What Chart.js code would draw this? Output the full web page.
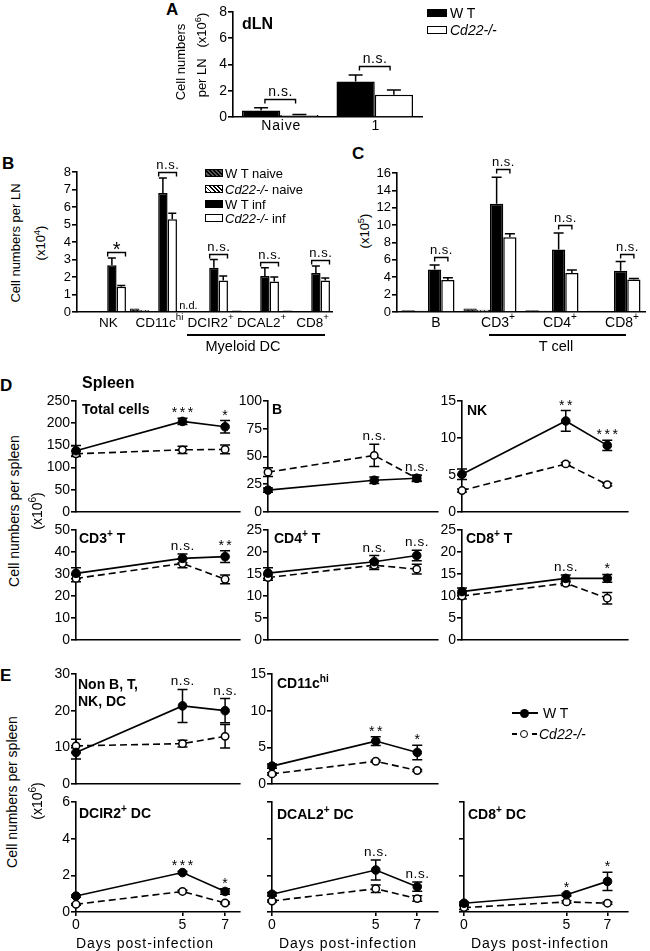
<!DOCTYPE html>
<html>
<head>
<meta charset="utf-8">
<title>Cd22-/- cell numbers in dLN and spleen</title>
<script src="https://cdn.jsdelivr.net/npm/chart.js@4.4.1/dist/chart.umd.min.js"></script>
<style>
  html, body { margin: 0; padding: 0; background: #fff; }
  #fig { position: relative; width: 650px; height: 951px; overflow: hidden;
         font-family: "Liberation Sans", Arial, Helvetica, sans-serif; color: #000; }
  #fig canvas { position: absolute; }
  .t { position: absolute; white-space: nowrap; line-height: 1; }
  .t sup { font-size: 72%; line-height: 0; vertical-align: 0; position: relative; top: -0.55em; }
</style>
</head>
<body>
<div id="fig"></div>
<script>
const FONT = '"Liberation Sans", Arial, Helvetica, sans-serif';

// ---------- data ----------
const days = [0, 5, 7];

// A: total cells per dLN (x10^6)
const lnGroups = ['Naive', '1'];
const lnTicks = [0, 2, 4, 6, 8];
const lnWT = [0.5, 2.7];
const lnWTErr = [0.2, 0.5];
const lnKO = [0.15, 1.7];
const lnKOErr = [0.05, 0.35];
const lnSig = ['n.s.', 'n.s.'];

// B: NK and DC subsets per dLN (x10^4)
const dcCells = ['NK', 'CD11c^{hi}', 'DCIR2^+', 'DCAL2^+', 'CD8^+'];
const dcTicks = [0, 1, 2, 3, 4, 5, 6, 7, 8];
const dcWTNaive = [0.05, 0.2, 0, 0.08, 0.08];
const dcKONaive = [0.05, 0.12, 0, 0.05, 0.05];
const dcWTInf = [2.67, 6.8, 2.53, 2.06, 2.23];
const dcWTInfErr = [0.42, 0.86, 0.47, 0.47, 0.4];
const dcKOInf = [1.45, 5.3, 1.8, 1.75, 1.8];
const dcKOInfErr = [0.06, 0.35, 0.26, 0.25, 0.14];
const dcSig = ['*', 'n.s.', 'n.s.', 'n.s.', 'n.s.'];
const dcNotDone = ['', '', 'n.d.', '', ''];

// C: B and T cells per dLN (x10^5)
const lyCells = ['B', 'CD3^+', 'CD4^+', 'CD8^+'];
const lyTicks = [0, 2, 4, 6, 8, 10, 12, 14, 16];
const lyWTNaive = [0.2, 0.4, 0.2, 0.15];
const lyKONaive = [0.15, 0.25, 0.15, 0.1];
const lyWTInf = [4.9, 12.45, 7.2, 4.75];
const lyWTInfErr = [0.5, 3.05, 1.9, 1.05];
const lyKOInf = [3.67, 8.6, 4.5, 3.75];
const lyKOInfErr = [0.27, 0.4, 0.33, 0.12];
const lySig = ['n.s.', 'n.s.', 'n.s.', 'n.s.'];

// D/E: spleen (x10^6), days 0/5/7
const totalTicks = [0, 50, 100, 150, 200, 250];
const totalWT = [138, 204, 192];
const totalWTErr = [12, 7, 14];
const totalKO = [131, 140, 141];
const totalKOErr = [6, 8, 10];
const totalSig = ['', '***', '*'];

const bTicks = [0, 25, 50, 75, 100];
const bWT = [19.7, 28.6, 30.4];
const bWTErr = [2, 3, 2.5];
const bKO = [35.9, 51, 30.4];
const bKOErr = [4, 10, 3];
const bSig = ['', 'n.s.', 'n.s.'];

const nkTicks = [0, 5, 10, 15];
const nkWT = [5.1, 12.3, 9.0];
const nkWTErr = [0.7, 1.4, 0.7];
const nkKO = [2.9, 6.5, 3.7];
const nkKOErr = [0.2, 0.2, 0.2];
const nkSig = ['', '**', '***'];

const cd3Ticks = [0, 10, 20, 30, 40, 50];
const cd3WT = [30.3, 37.1, 37.9];
const cd3WTErr = [2.5, 2, 2.7];
const cd3KO = [28, 34.8, 27.6];
const cd3KOErr = [1.5, 2, 2];
const cd3Sig = ['', 'n.s.', '**'];

const cd4Ticks = [0, 5, 10, 15, 20, 25];
const cd4WT = [15.2, 17.8, 19.2];
const cd4WTErr = [1.2, 1.4, 1.2];
const cd4KO = [14.2, 17, 16.1];
const cd4KOErr = [0.6, 1, 1.1];
const cd4Sig = ['', 'n.s.', 'n.s.'];

const cd8tTicks = [0, 5, 10, 15, 20, 25];
const cd8tWT = [11, 14, 14];
const cd8tWTErr = [0.8, 0.8, 0.9];
const cd8tKO = [10, 12.9, 9.5];
const cd8tKOErr = [0.7, 0.5, 1.3];
const cd8tSig = ['', 'n.s.', '*'];

const otherTicks = [0, 10, 20, 30];
const otherWT = [8.6, 21.3, 20];
const otherWTErr = [1.8, 4.5, 3.3];
const otherKO = [10.4, 11, 13];
const otherKOErr = [1.8, 0.9, 3.2];
const otherSig = ['', 'n.s.', 'n.s.'];

const cd11cTicks = [0, 5, 10, 15];
const cd11cWT = [2.44, 5.85, 4.3];
const cd11cWTErr = [0.3, 0.6, 1.0];
const cd11cKO = [1.38, 3.1, 1.84];
const cd11cKOErr = [0.15, 0.15, 0.15];
const cd11cSig = ['', '**', '*'];

const dcTicksSpleen = [0, 2, 4, 6];
const dcir2WT = [0.87, 2.15, 1.12];
const dcir2WTErr = [0.06, 0.06, 0.15];
const dcir2KO = [0.42, 1.12, 0.49];
const dcir2KOErr = [0.05, 0.06, 0.06];
const dcir2Sig = ['', '***', '*'];

const dcal2WT = [0.97, 2.29, 1.38];
const dcal2WTErr = [0.1, 0.55, 0.25];
const dcal2KO = [0.6, 1.27, 0.73];
const dcal2KOErr = [0.05, 0.2, 0.15];
const dcal2Sig = ['', 'n.s.', 'n.s.'];

const cd8dcWT = [0.48, 0.94, 1.67];
const cd8dcWTErr = [0.06, 0.07, 0.5];
const cd8dcKO = [0.24, 0.55, 0.48];
const cd8dcKOErr = [0.1, 0.06, 0.06];
const cd8dcSig = ['', '*', '*'];

// ---------- helpers ----------
Chart.defaults.font.family = FONT;
Chart.defaults.color = '#000';
const fig = document.getElementById('fig');

function put(html, x, y, style, mode) {
  const d = document.createElement('div');
  d.className = 't';
  d.innerHTML = html;
  d.style.cssText = 'left:' + x + 'px;top:' + y + 'px;' + (style || '');
  const tf = { c: 'translate(-50%,-50%)', r: 'translate(-50%,-50%) rotate(-90deg)', l: 'translateY(-50%)' };
  d.style.transform = tf[mode || 'l'];
  fig.appendChild(d);
}

function box(x, y, w, h, style) {
  const d = document.createElement('div');
  d.style.cssText = 'position:absolute;box-sizing:border-box;left:' + x + 'px;top:' + y + 'px;width:' + w + 'px;height:' + h + 'px;' + style;
  fig.appendChild(d);
}

// text with ^x or ^{xx} superscripts, centred on x, middle on y
function drawRich(ctx, str, x, y, size) {
  const parts = str.split(/(\^\{[^}]*\}|\^.)/).filter(Boolean).map(p =>
    p[0] === '^' ? { t: p[1] === '{' ? p.slice(2, -1) : p.slice(1), sup: true } : { t: p, sup: false });
  const f = s => s + 'px ' + FONT;
  let w = 0;
  parts.forEach(p => { ctx.font = f(p.sup ? size * 0.72 : size); p.w = ctx.measureText(p.t).width; w += p.w; });
  let cx = x - w / 2;
  ctx.textAlign = 'left';
  ctx.textBaseline = 'middle';
  parts.forEach(p => {
    ctx.font = f(p.sup ? size * 0.72 : size);
    ctx.fillText(p.t, cx, p.sup ? y - size * 0.4 : y);
    cx += p.w;
  });
}

function hatch(bg, fg, lw) {
  const p = document.createElement('canvas');
  p.width = p.height = 4;
  const g = p.getContext('2d');
  g.fillStyle = bg; g.fillRect(0, 0, 4, 4);
  g.strokeStyle = fg; g.lineWidth = lw;
  g.beginPath();
  g.moveTo(-1, -1); g.lineTo(5, 5);
  g.moveTo(-1, 3); g.lineTo(1, 5);
  g.moveTo(3, -1); g.lineTo(5, 1);
  g.stroke();
  return g.createPattern(p, 'repeat');
}

function yAxis(ticks, showLabels, size) {
  return {
    min: ticks[0], max: ticks[ticks.length - 1],
    afterBuildTicks: s => { s.ticks = ticks.map(v => ({ value: v })); },
    border: { display: true, color: '#000', width: 1.6 },
    grid: { display: true, drawOnChartArea: false, drawTicks: true, tickLength: 5, color: '#000', lineWidth: 1.6 },
    ticks: { display: showLabels, autoSkip: false, padding: 1, font: { size: size }, color: '#000' }
  };
}

function barX() {
  return {
    type: 'category',
    border: { display: true, color: '#000', width: 1.6 },
    grid: { display: false },
    ticks: { display: false }
  };
}

function dayX(xMax, showLabels) {
  return {
    type: 'linear', min: 0, max: xMax,
    afterBuildTicks: s => { s.ticks = days.map(v => ({ value: v })); },
    border: { display: true, color: '#000', width: 1.6 },
    grid: { display: showLabels, drawOnChartArea: false, drawTicks: true, tickLength: 4, color: '#000', lineWidth: 1.6 },
    ticks: { display: showLabels, padding: 1, autoSkip: false, maxRotation: 0, font: { size: 14 }, color: '#000' }
  };
}

function makeChart(b, type, data, y, x, plugins) {
  const c = document.createElement('canvas');
  const w = b.padL + (b.right - b.x) + b.padR;
  const h = b.padT + (b.bottom - b.top) + b.padB;
  c.width = w; c.height = h;
  c.style.left = (b.x - b.padL) + 'px';
  c.style.top = (b.top - b.padT) + 'px';
  c.style.width = w + 'px';
  c.style.height = h + 'px';
  fig.appendChild(c);
  y.afterFit = s => { s.width = b.padL; };
  x.afterFit = s => { s.height = b.padB; };
  return new Chart(c, {
    type: type,
    data: data,
    plugins: plugins,
    options: {
      responsive: false,
      animation: false,
      devicePixelRatio: 1,
      layout: { padding: { top: b.padT, right: b.padR, left: 0, bottom: 0 } },
      plugins: { legend: { display: false }, tooltip: { enabled: false } },
      scales: { x: x, y: y }
    }
  });
}

// error bars: bars get an upper whisker only, line points get both
function errorBars(cap, both) {
  function draw(chart) {
    const ctx = chart.ctx, ys = chart.scales.y;
    ctx.save();
    ctx.strokeStyle = '#000';
    ctx.lineWidth = 1.5;
    chart.data.datasets.forEach((ds, i) => {
      if (!ds.err) return;
      chart.getDatasetMeta(i).data.forEach((el, j) => {
        const e = ds.err[j];
        if (!e) return;
        const v = typeof ds.data[j] === 'object' ? ds.data[j].y : ds.data[j];
        const hi = ys.getPixelForValue(v + e);
        const lo = ys.getPixelForValue(both ? v - e : v);
        ctx.beginPath();
        ctx.moveTo(el.x, lo); ctx.lineTo(el.x, hi);
        ctx.moveTo(el.x - cap, hi); ctx.lineTo(el.x + cap, hi);
        if (both) { ctx.moveTo(el.x - cap, lo); ctx.lineTo(el.x + cap, lo); }
        ctx.stroke();
      });
    });
    ctx.restore();
  }
  return both
    ? { id: 'errorBars', beforeDatasetsDraw: draw }
    : { id: 'errorBars', afterDatasetsDraw: draw };
}

// category labels, brackets with significance, n.d. marks
function barExtras(cfg) {
  return {
    id: 'barExtras',
    afterDatasetsDraw(chart) {
      const ctx = chart.ctx, xs = chart.scales.x, ys = chart.scales.y;
      const ds = chart.data.datasets;
      const mw = chart.getDatasetMeta(cfg.wt), mk = chart.getDatasetMeta(cfg.ko);
      ctx.save();
      ctx.fillStyle = '#000';
      ctx.strokeStyle = '#000';
      chart.data.labels.forEach((lab, i) => {
        ctx.letterSpacing = cfg.labelSpacing || '0px';
        drawRich(ctx, lab, xs.getPixelForValue(i) + cfg.labelShift, ys.bottom + cfg.labelDy, cfg.labelSize);
        ctx.letterSpacing = '0px';
        const top = Math.max(ds[cfg.wt].data[i] + ds[cfg.wt].err[i], ds[cfg.ko].data[i] + ds[cfg.ko].err[i]);
        const by = Math.round(ys.getPixelForValue(top) - cfg.gap) + 0.5;
        const sp = mw.data[i].width * cfg.spread;
        const x1 = mw.data[i].x - sp, x2 = mk.data[i].x + sp;
        ctx.lineWidth = 1.4;
        ctx.beginPath();
        ctx.moveTo(x1, by + 4); ctx.lineTo(x1, by); ctx.lineTo(x2, by); ctx.lineTo(x2, by + 4);
        ctx.stroke();
        const s = cfg.sig[i], cx = (x1 + x2) / 2;
        ctx.textAlign = 'center';
        ctx.textBaseline = 'alphabetic';
        if (s[0] === '*') {
          ctx.font = '20px ' + FONT;
          ctx.fillText(s, cx, by + 3);
        } else {
          ctx.font = cfg.sigSize + 'px ' + FONT;
          ctx.letterSpacing = '0.5px';
          ctx.fillText(s, cx + 0.25, by - 4);
          ctx.letterSpacing = '0px';
        }
        if (cfg.nd && cfg.nd[i]) {
          const n0 = chart.getDatasetMeta(0).data[i], n1 = chart.getDatasetMeta(1).data[i];
          ctx.font = '11px ' + FONT;
          ctx.fillText(cfg.nd[i], (n0.x + n1.x) / 2 - 2, ys.bottom - 3);
        }
      });
      ctx.restore();
    }
  };
}

function lineSig(labels) {
  return {
    id: 'lineSig',
    afterDatasetsDraw(chart) {
      const ctx = chart.ctx, xs = chart.scales.x, ys = chart.scales.y;
      const ds = chart.data.datasets;
      ctx.save();
      ctx.fillStyle = '#000';
      ctx.textAlign = 'center';
      ctx.textBaseline = 'alphabetic';
      labels.forEach((lab, j) => {
        if (!lab) return;
        const top = Math.max(...ds.map(d => d.data[j].y + d.err[j]));
        const px = xs.getPixelForValue(days[j]);
        const py = ys.getPixelForValue(top);
        if (lab[0] === '*') {
          ctx.font = '14px ' + FONT;
          ctx.letterSpacing = '2.5px';
          ctx.fillText(lab, px + 1.25, py - 1);
        } else {
          ctx.font = '13.5px ' + FONT;
          ctx.letterSpacing = '0.6px';
          ctx.fillText(lab, px + 0.3, py - 4);
        }
      });
      ctx.restore();
    }
  };
}

function pts(vals) { return days.map((d, i) => ({ x: d, y: vals[i] })); }

function linePanel(g, ticks, wt, wtErr, ko, koErr, sig) {
  const b = { x: g.x, right: g.right, top: g.top, bottom: g.bottom, padL: 34, padR: 6, padT: 12, padB: g.days ? 32 : 11 };
  return makeChart(b, 'line', {
    datasets: [
      { data: pts(wt), err: wtErr, borderColor: '#000', borderWidth: 1.6, pointRadius: 4.3, pointBorderWidth: 1,
        pointBackgroundColor: '#000', pointBorderColor: '#000', clip: false },
      { data: pts(ko), err: koErr, borderColor: '#000', borderWidth: 1.6, borderDash: [7, 4], pointRadius: 3.7,
        pointBorderWidth: 1.5, pointBackgroundColor: '#fff', pointBorderColor: '#000', clip: false }
    ]
  }, yAxis(ticks, g.labels !== false, 14), dayX(g.xMax, !!g.days), [errorBars(5, true), lineSig(sig)]);
}

// ---------- A ----------
makeChart({ x: 233, right: 422, top: 12, bottom: 117, padL: 22, padR: 6, padT: 12, padB: 20 }, 'bar', {
  labels: lnGroups,
  datasets: [
    { data: lnWT, err: lnWTErr, backgroundColor: '#000', borderColor: '#000', borderWidth: 1.5, barPercentage: 1, categoryPercentage: 0.81 },
    { data: lnKO, err: lnKOErr, backgroundColor: '#fff', borderColor: '#000', borderWidth: 1.5, barPercentage: 1, categoryPercentage: 0.81 }
  ]
}, yAxis(lnTicks, true, 14), barX(), [errorBars(7, false),
  barExtras({ wt: 0, ko: 1, sig: lnSig, spread: -0.1, gap: 9, labelShift: 1, labelDy: 9, labelSize: 14, labelSpacing: '0.8px', sigSize: 14 })]);

// ---------- B ----------
const darkHatch = hatch('#555', '#000', 1.2);
const lightHatch = hatch('#fff', '#000', 1);
makeChart({ x: 77, right: 332, top: 172, bottom: 312, padL: 16, padR: 4, padT: 30, padB: 24 }, 'bar', {
  labels: dcCells,
  datasets: [
    { data: dcWTNaive, backgroundColor: darkHatch, borderColor: '#000', borderWidth: 1, barPercentage: 1, categoryPercentage: 0.92 },
    { data: dcKONaive, backgroundColor: lightHatch, borderColor: '#000', borderWidth: 1, barPercentage: 1, categoryPercentage: 0.92 },
    { data: dcCells.map(() => 0), backgroundColor: 'rgba(0,0,0,0)', borderWidth: 0, barPercentage: 1, categoryPercentage: 0.92 },
    { data: dcWTInf, err: dcWTInfErr, backgroundColor: '#000', borderColor: '#000', borderWidth: 1.5, barPercentage: 1, categoryPercentage: 0.92 },
    { data: dcKOInf, err: dcKOInfErr, backgroundColor: '#fff', borderColor: '#000', borderWidth: 1.5, barPercentage: 1, categoryPercentage: 0.92 }
  ]
}, yAxis(dcTicks, true, 13), barX(), [errorBars(4, false),
  barExtras({ wt: 3, ko: 4, sig: dcSig, nd: dcNotDone, spread: 0.45, gap: 6, labelShift: 6, labelDy: 11, labelSize: 13.5, sigSize: 13 })]);

// ---------- C ----------
makeChart({ x: 397, right: 645, top: 173, bottom: 312, padL: 24, padR: 4, padT: 30, padB: 24 }, 'bar', {
  labels: lyCells,
  datasets: [
    { data: lyWTNaive, backgroundColor: darkHatch, borderColor: '#000', borderWidth: 1, barPercentage: 1, categoryPercentage: 0.855 },
    { data: lyKONaive, backgroundColor: lightHatch, borderColor: '#000', borderWidth: 1, barPercentage: 1, categoryPercentage: 0.855 },
    { data: lyWTInf, err: lyWTInfErr, backgroundColor: '#000', borderColor: '#000', borderWidth: 1.5, barPercentage: 1, categoryPercentage: 0.855 },
    { data: lyKOInf, err: lyKOInfErr, backgroundColor: '#fff', borderColor: '#000', borderWidth: 1.5, barPercentage: 1, categoryPercentage: 0.855 }
  ]
}, yAxis(lyTicks, true, 13), barX(), [errorBars(5, false),
  barExtras({ wt: 2, ko: 3, sig: lySig, spread: 0, gap: 8, labelShift: 8, labelDy: 11, labelSize: 14, sigSize: 13 })]);

// ---------- D ----------
linePanel({ x: 76, right: 240, top: 401, bottom: 512, xMax: 7.7 }, totalTicks, totalWT, totalWTErr, totalKO, totalKOErr, totalSig);
linePanel({ x: 268, right: 438, top: 401, bottom: 512, xMax: 8 }, bTicks, bWT, bWTErr, bKO, bKOErr, bSig);
linePanel({ x: 462, right: 628, top: 401, bottom: 512, xMax: 8 }, nkTicks, nkWT, nkWTErr, nkKO, nkKOErr, nkSig);
linePanel({ x: 76, right: 240, top: 530, bottom: 640, xMax: 7.7 }, cd3Ticks, cd3WT, cd3WTErr, cd3KO, cd3KOErr, cd3Sig);
linePanel({ x: 268, right: 438, top: 530, bottom: 640, xMax: 8 }, cd4Ticks, cd4WT, cd4WTErr, cd4KO, cd4KOErr, cd4Sig);
linePanel({ x: 462, right: 628, top: 530, bottom: 640, xMax: 8 }, cd8tTicks, cd8tWT, cd8tWTErr, cd8tKO, cd8tKOErr, cd8tSig);

// ---------- E ----------
linePanel({ x: 76, right: 240, top: 674, bottom: 784, xMax: 7.7 }, otherTicks, otherWT, otherWTErr, otherKO, otherKOErr, otherSig);
linePanel({ x: 272, right: 438, top: 674, bottom: 784, xMax: 8 }, cd11cTicks, cd11cWT, cd11cWTErr, cd11cKO, cd11cKOErr, cd11cSig);
linePanel({ x: 76, right: 240, top: 802, bottom: 912, xMax: 7.7, days: true }, dcTicksSpleen, dcir2WT, dcir2WTErr, dcir2KO, dcir2KOErr, dcir2Sig);
linePanel({ x: 272, right: 438, top: 802, bottom: 912, xMax: 8, days: true, labels: false }, dcTicksSpleen, dcal2WT, dcal2WTErr, dcal2KO, dcal2KOErr, dcal2Sig);
linePanel({ x: 464, right: 628, top: 802, bottom: 912, xMax: 8, days: true, labels: false }, dcTicksSpleen, cd8dcWT, cd8dcWTErr, cd8dcKO, cd8dcKOErr, cd8dcSig);

// ---------- text, legends ----------
const letter = 'font-weight:bold;font-size:17px;';
put('A', 166, 9, letter);
put('B', 2, 163, letter);
put('C', 352, 153, letter);
put('D', 0, 385, letter);
put('E', 0, 675, letter);
put('Spleen', 82, 383, 'font-weight:bold;font-size:16px;');
put('dLN', 242, 24, 'font-weight:bold;font-size:16px;');

// axis titles
put('Cell numbers', 180, 62, 'font-size:13px;', 'r');
put('per LN&nbsp;&nbsp;&nbsp;(x10<sup>6</sup>)', 201, 55, 'font-size:13px;', 'r');
put('Cell numbers per LN', 15, 243, 'font-size:13px;', 'r');
put('(x10<sup>4</sup>)', 40, 243, 'font-size:13px;', 'r');
put('(x10<sup>5</sup>)', 364, 231, 'font-size:13px;', 'r');
put('Cell numbers per spleen', 14, 511, 'font-size:14px;', 'r');
put('(x10<sup>6</sup>)', 37, 511, 'font-size:14px;', 'r');
put('Cell numbers per spleen', 12, 792, 'font-size:14px;', 'r');
put('(x10<sup>6</sup>)', 37, 801, 'font-size:14px;', 'r');
const daysCss = 'font-size:14px;letter-spacing:1px;';
put('Days post-infection', 145, 943, daysCss, 'c');
put('Days post-infection', 348, 943, daysCss, 'c');
put('Days post-infection', 540, 943, daysCss, 'c');

// group lines under B and C
box(187, 334, 138, 1.6, 'background:#000;');
put('Myeloid DC', 243, 346, 'font-size:14.5px;', 'c');
box(489, 334, 137, 1.6, 'background:#000;');
put('T cell', 556, 346, 'font-size:14.5px;', 'c');

// panel titles
const ttl = 'font-weight:bold;font-size:14px;';
put('Total cells', 82, 409, ttl);
put('B', 272, 409, ttl);
put('NK', 467, 410, ttl);
put('CD3<sup>+</sup> T', 79, 538, ttl);
put('CD4<sup>+</sup> T', 274, 538, ttl);
put('CD8<sup>+</sup> T', 466, 538, ttl);
put('Non B, T,', 78, 684, ttl);
put('NK, DC', 78, 701, ttl);
put('CD11c<sup>hi</sup>', 277, 683, ttl);
put('DCIR2<sup>+</sup> DC', 79, 813, ttl);
put('DCAL2<sup>+</sup> DC', 277, 814, ttl);
put('CD8<sup>+</sup> DC', 468, 814, ttl);

// legend A
box(427, 9, 20, 8, 'background:#000;border:1.5px solid #000;');
put('W T', 450, 13, 'font-size:14px;');
box(427, 26, 20, 8, 'background:#fff;border:1.5px solid #000;');
put('<i>Cd22-/-</i>', 450, 30, 'font-size:14px;');

// legend B
box(205, 169, 18, 8, 'border:1px solid #000;background:repeating-linear-gradient(45deg,#000 0 1.3px,#555 1.3px 3px);');
put('W T naive', 225, 173, 'font-size:13px;');
box(205, 185, 18, 8, 'border:1px solid #000;background:repeating-linear-gradient(45deg,#000 0 1.2px,#fff 1.2px 3px);');
put('<i>Cd22-/-</i> naive', 225, 189, 'font-size:13px;');
box(205, 200, 18, 8, 'background:#000;border:1.5px solid #000;');
put('W T inf', 225, 204, 'font-size:13px;');
box(205, 214, 18, 8, 'background:#fff;border:1.5px solid #000;');
put('<i>Cd22-/-</i> inf', 225, 218, 'font-size:13px;');

// legend E
box(512, 712, 26, 1.6, 'background:#000;');
box(519.5, 708.5, 9, 9, 'background:#000;border-radius:50%;');
put('W T', 543, 713, 'font-size:14px;');
box(512, 733, 5, 1.6, 'background:#000;');
box(532, 733, 5, 1.6, 'background:#000;');
box(520, 730, 8, 8, 'background:#fff;border:1.5px solid #000;border-radius:50%;');
put('<i>Cd22-/-</i>', 539, 734, 'font-size:14px;');
</script>
</body>
</html>
